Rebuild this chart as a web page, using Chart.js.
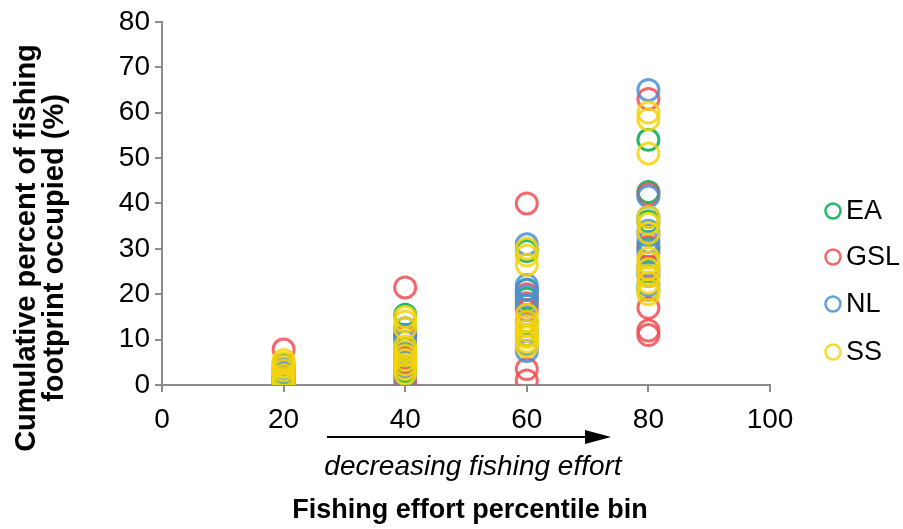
<!DOCTYPE html>
<html>
<head>
<meta charset="utf-8">
<script src="https://cdn.jsdelivr.net/npm/chart.js@4"></script>
<style>
  body { margin: 0; background: #fff; }
  canvas { display: block; }
</style>
</head>
<body>
<canvas id="footprint-chart" width="903" height="529"></canvas>
<script>
// percentile bins on the x axis
const bins = [20, 40, 60, 80];

// cumulative % of footprint occupied, one inner list per bin
const eaValues = [
    [4.5, 3.0, 2.0, 1.0, 0.5],
    [15.5, 11, 8, 5, 3],
    [29.5, 21, 19, 14, 11],
    [54, 42.5, 36, 30, 25, 21]
];
const gslValues = [
    [7.8, 1.5, 0.3],
    [21.5, 10.5, 6, 1.5, 0.3],
    [40, 20, 18, 16.5, 3.5, 1],
    [63, 42, 30.5, 26, 17, 12, 11]
];
const nlValues = [
    [3.5, 2.5, 1.2, 0.4],
    [12.5, 11, 9.5, 7, 4, 2],
    [31, 22, 21, 19.5, 17.5, 12, 9, 7.5],
    [65, 41.5, 37, 34, 33, 31.5, 29, 24, 22]
];
const ssValues = [
    [5.5, 4.8, 4.0, 3.2, 2.2, 1.5, 0.8, 0.2],
    [15, 14, 12.5, 8.5, 7.5, 6.5, 5.5, 4.5, 3.5, 2.5],
    [30, 28.5, 26.5, 15.5, 14, 13, 12, 11, 10.5, 9.5, 8.5],
    [60, 58.5, 51, 37, 35.5, 33.5, 28, 27, 25.5, 24, 22.5, 21, 20]
];

const seriesNames = ['EA', 'GSL', 'NL', 'SS'];
const seriesColors = [
    'rgba(0, 172, 80, 0.85)',
    'rgba(240, 78, 82, 0.85)',
    'rgba(72, 144, 210, 0.85)',
    'rgba(245, 212, 10, 0.85)'
];

function toPoints(values) {
    const pts = [];
    values.forEach((list, i) => {
        list.forEach(v => pts.push({ x: bins[i], y: v }));
    });
    return pts;
}

const allValues = [eaValues, gslValues, nlValues, ssValues];

// Excel draws the last series on top
const datasets = seriesNames.map((name, i) => ({
    label: name,
    data: toPoints(allValues[i]),
    borderColor: seriesColors[i],
    backgroundColor: 'rgba(0,0,0,0)',
    borderWidth: 3,
    pointRadius: 10.5,
    pointHoverRadius: 10.5,
    order: seriesNames.length - i
}));

const axisGray = '#8c8c8c';
const fontFamily = '"Liberation Sans", Arial, sans-serif';

const extrasPlugin = {
    id: 'extras',
    afterDraw(chart) {
        const ctx = chart.ctx;
        ctx.save();
        ctx.fillStyle = '#000';

        // y axis title, two lines
        ctx.save();
        ctx.translate(0, 248);
        ctx.rotate(-Math.PI / 2);
        ctx.font = 'bold 29px ' + fontFamily;
        ctx.textAlign = 'center';
        ctx.textBaseline = 'alphabetic';
        ctx.fillText('Cumulative percent of fishing', 0, 35);
        ctx.fillText('footprint occupied (%)', 0, 63);
        ctx.restore();

        // arrow
        ctx.strokeStyle = '#000';
        ctx.lineWidth = 2;
        ctx.beginPath();
        ctx.moveTo(327, 437);
        ctx.lineTo(590, 437);
        ctx.stroke();
        ctx.beginPath();
        ctx.moveTo(611, 437);
        ctx.lineTo(585, 430);
        ctx.lineTo(585, 444);
        ctx.closePath();
        ctx.fill();

        ctx.textAlign = 'center';
        ctx.textBaseline = 'middle';
        ctx.font = 'italic 28px ' + fontFamily;
        ctx.fillText('decreasing fishing effort', 473, 467);

        ctx.font = 'bold 27px ' + fontFamily;
        ctx.fillText('Fishing effort percentile bin', 470, 511);

        // legend
        const legendY = [211, 257, 304, 352];
        ctx.textAlign = 'left';
        ctx.font = '27px ' + fontFamily;
        seriesNames.forEach((name, i) => {
            ctx.beginPath();
            ctx.arc(833, legendY[i], 7.5, 0, Math.PI * 2);
            ctx.strokeStyle = seriesColors[i];
            ctx.lineWidth = 2.5;
            ctx.stroke();
            ctx.fillStyle = '#000';
            ctx.fillText(name, 846, legendY[i] + 1);
        });
        ctx.restore();
    }
};

new Chart(document.getElementById('footprint-chart'), {
    type: 'scatter',
    data: { datasets: datasets },
    options: {
        responsive: false,
        animation: false,
        devicePixelRatio: 1,
        events: [],
        layout: {
            padding: { left: 0, top: 20, right: 133, bottom: 0 }
        },
        scales: {
            x: {
                type: 'linear',
                min: 0,
                max: 100,
                afterFit: s => { s.height = 144; },
                border: { color: axisGray, width: 2 },
                grid: {
                    drawOnChartArea: false,
                    color: axisGray,
                    lineWidth: 2,
                    tickLength: 7
                },
                ticks: {
                    stepSize: 20,
                    padding: 11,
                    color: '#000',
                    font: { family: fontFamily, size: 28 }
                }
            },
            y: {
                type: 'linear',
                min: 0,
                max: 80,
                afterFit: s => { s.width = 162; },
                border: { color: axisGray, width: 2 },
                grid: {
                    drawOnChartArea: false,
                    color: axisGray,
                    lineWidth: 2,
                    tickLength: 7
                },
                ticks: {
                    stepSize: 10,
                    padding: 5,
                    color: '#000',
                    font: { family: fontFamily, size: 28 }
                }
            }
        },
        plugins: {
            legend: { display: false },
            tooltip: { enabled: false }
        }
    },
    plugins: [extrasPlugin]
});
</script>
</body>
</html>
